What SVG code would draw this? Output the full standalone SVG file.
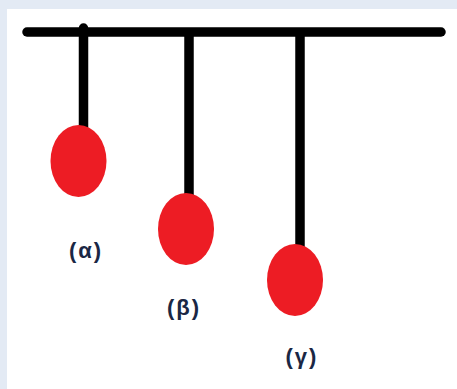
<svg xmlns="http://www.w3.org/2000/svg" width="457" height="389" viewBox="0 0 457 389">
  <style>
    .rod { stroke: #000; stroke-width: 9.5; stroke-linecap: round; fill: none; }
    .hang { stroke-linecap: butt; }
    .bob { fill: #ed1c24; }
    .lbl { font-family: "Liberation Sans", Arial, sans-serif; font-weight: bold; font-size: 22px; fill: #1a2744; text-anchor: middle; letter-spacing: 2px; }
  </style>
  <!-- page frame -->
  <rect x="0" y="0" width="457" height="389" fill="#e3eaf4"/>
  <rect x="7" y="9" width="450" height="380" fill="#fff"/>

  <!-- support beam and strings -->
  <g id="connectors">
    <line class="rod" x1="27" y1="32" x2="441" y2="32"/>
    <line class="rod" x1="83.5" y1="28" x2="83.5" y2="132"/>
    <line class="rod hang" x1="189" y1="32" x2="189" y2="198"/>
    <line class="rod hang" x1="300" y1="32" x2="300" y2="248"/>
  </g>

  <g id="bob-alpha">
    <ellipse class="bob" cx="78.5" cy="161" rx="28" ry="36"/>
    <text class="lbl" x="86" y="258">(α)</text>
  </g>
  <g id="bob-beta">
    <ellipse class="bob" cx="186" cy="229" rx="28" ry="36"/>
    <text class="lbl" x="184" y="315">(β)</text>
  </g>
  <g id="bob-gamma">
    <ellipse class="bob" cx="295" cy="280" rx="28" ry="36"/>
    <text class="lbl" x="302" y="364">(γ)</text>
  </g>
</svg>
